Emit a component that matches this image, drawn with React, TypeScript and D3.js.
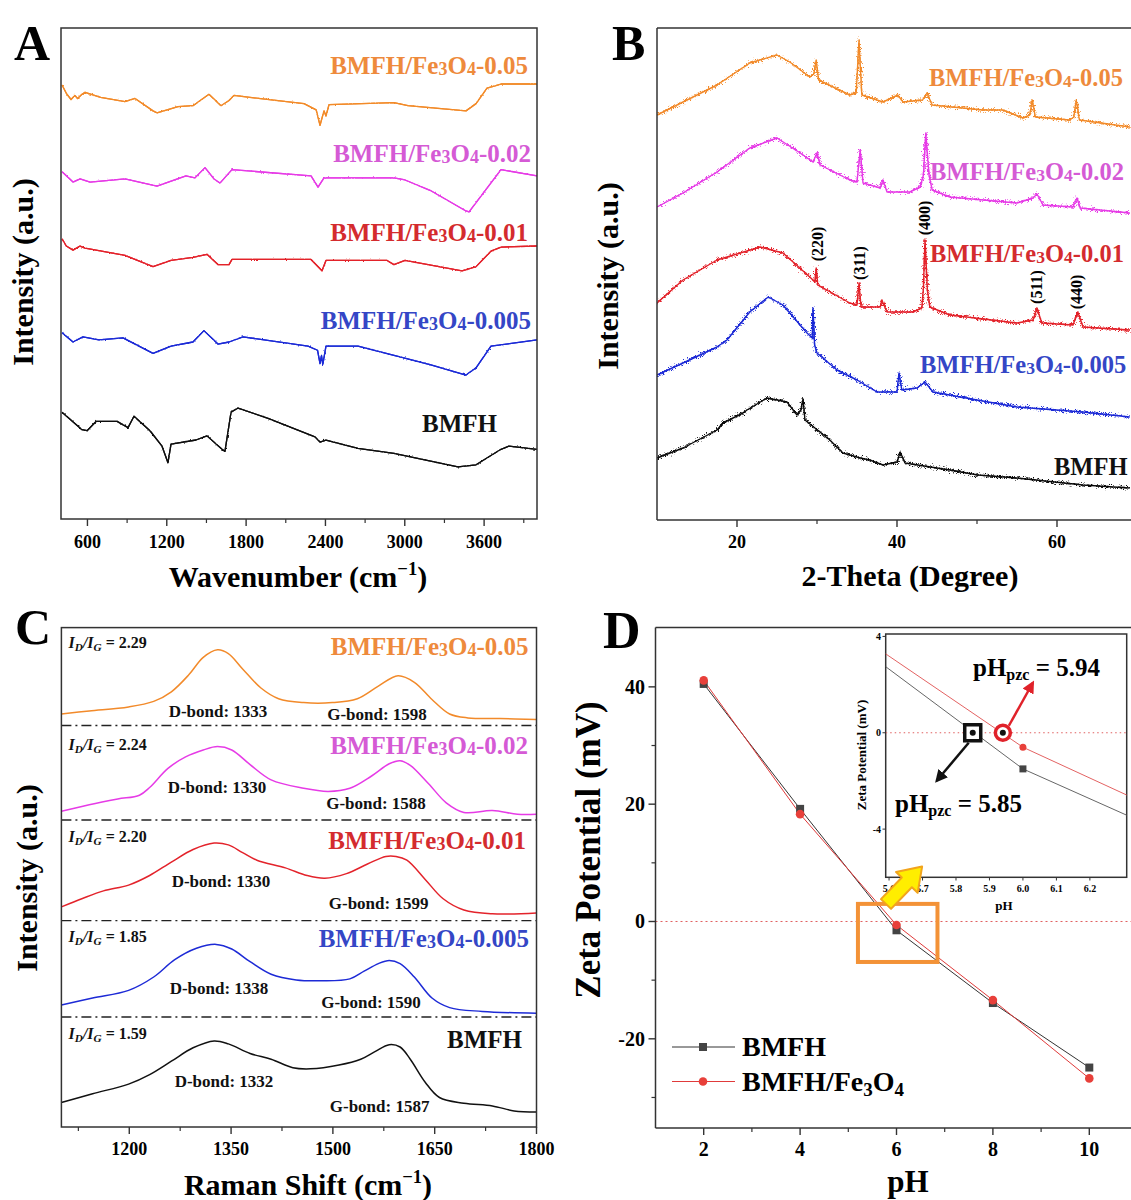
import React from "react";
import * as d3 from "d3";

type Pt = [number, number];

const SERIF = "'Liberation Serif', 'Times New Roman', Times, serif";
const AX = "#333";

// ---------------- A: FTIR (wavenumber, a.u.) ----------------
const ftirOrange: Pt[] = [[408,422],[440,414],[476,408],[505,412],[525,409],[559,413],[582,415],[700,410],[884,406],[960,409],[1096,397],[1126,395],[1285,401],[1398,402],[1519,413],[1602,403],[1610,402],[1671,407],[1708,412],[1829,410],[2238,404],[2330,398],[2359,383],[2389,397],[2404,392],[2427,403],[2918,405],[3024,402],[3463,397],[3539,404],[3622,419],[3728,423],[4000,423]];
const ftirMagenta: Pt[] = [[408,338],[491,328],[544,331],[620,328],[884,331],[1126,324],[1345,334],[1413,332],[1489,342],[1557,331],[1602,327],[1693,340],[2291,334],[2344,323],[2389,332],[2918,332],[3002,330],[3191,320],[3463,300],[3486,299],[3728,340],[4000,334]];
const ftirRed: Pt[] = [[408,273],[440,266],[491,262],[544,266],[582,264],[884,257],[1096,246],[1232,252],[1398,255],[1504,258],[1587,248],[1671,248],[1693,253],[2291,253],[2374,242],[2404,252],[2866,252],[2918,248],[3002,252],[3433,242],[3539,246],[3652,261],[3728,265],[4000,266]];
const ftirBlue: Pt[] = [[408,182],[491,173],[566,178],[687,175],[869,177],[1096,162],[1232,169],[1398,173],[1481,184],[1587,171],[1671,173],[1776,178],[2268,169],[2340,165],[2359,152],[2370,160],[2380,151],[2404,169],[2646,169],[3191,151],[3463,141],[3539,148],[3652,169],[4000,175]];
const ftirBlack: Pt[] = [[408,105],[559,88],[597,87],[665,96],[824,96],[907,90],[952,101],[1073,87],[1164,72],[1209,56],[1232,74],[1421,78],[1504,82],[1618,69],[1640,67],[1686,105],[1739,109],[1966,99],[2321,81],[2359,76],[2404,78],[2646,70],[2918,65],[3402,52],[3539,54],[3728,69],[3788,72],[4000,69]];
const ftirMajorTicks = [600, 1200, 1800, 2400, 3000, 3600];
const ftirMinorTicks = [900, 1500, 2100, 2700, 3300, 3900];

// ---------------- B: XRD (2-theta, a.u.) ----------------
const xrdOrange: Pt[] = [[10,405],[13.25,418],[17.5,435],[21.6,457],[25,465],[26.6,458],[29.1,443],[29.6,446],[29.9,460],[30.2,440],[34.1,425],[34.9,427],[35.25,480],[35.6,425],[38.25,418],[40.1,425],[40.75,418],[43.2,420],[43.75,427],[44.4,415],[50.75,410],[53.25,410],[55.75,402],[56.6,405],[56.9,420],[57.3,403],[61.6,400],[62.1,403],[62.4,420],[62.8,400],[69.1,393]];
const xrdMagenta: Pt[] = [[10,313],[13.25,327],[17.5,348],[21.6,372],[25,382],[27.9,367],[29.5,358],[30,367],[30.4,355],[34.1,340],[35,338],[35.4,370],[35.75,337],[37.9,332],[38.25,340],[38.75,328],[41.6,328],[42.9,333],[43.3,345],[43.6,387],[44,345],[44.4,330],[46.6,323],[55,317],[57,322],[57.5,326],[58.25,315],[62,313],[62.5,322],[62.9,312],[69.1,307]];
const xrdRed: Pt[] = [[10,217],[13.25,240],[17.5,260],[22.9,273],[25.75,267],[29.1,243],[29.75,238],[29.9,252],[30.1,235],[34.1,217],[35,215],[35.25,237],[35.5,213],[37.9,213],[38.1,220],[38.75,208],[42,208],[43.1,212],[43.3,232],[43.5,280],[43.8,230],[44.1,213],[46.6,205],[55,197],[57,200],[57.5,212],[58.1,197],[62,195],[62.6,208],[63.25,193],[69.1,190]];
const xrdBlue: Pt[] = [[10,145],[13.25,157],[17.5,173],[18.75,180],[21.6,208],[23.9,223],[25.75,215],[28.75,187],[29.4,182],[29.5,212],[29.7,175],[30,167],[32.5,150],[35,140],[37.5,128],[40,128],[40.25,147],[40.6,130],[42.5,132],[43.5,138],[44.5,128],[50,120],[55,113],[63.25,108],[69.1,103]];
const xrdBlack: Pt[] = [[10,62],[13.25,72],[17.5,90],[18.25,97],[20.75,107],[21.25,110],[23.75,122],[26.25,118],[27.5,105],[28,110],[28.25,121],[28.5,100],[31.6,80],[33.25,67],[35.4,62],[36.6,60],[38.25,55],[40,58],[40.4,68],[41,57],[46.6,50],[50.1,45],[55,42],[63.25,35],[69.1,32]];
const hklLabels = ["(220)", "(311)", "(400)", "(511)", "(440)"];
const hklAngles = [30.1, 35.4, 43.5, 57.5, 62.5];
const hklLevels = [276, 257, 302, 233, 228];
const xrdMajorTicks = [20, 40, 60];
const xrdMinorTicks = [30, 50];

// ---------------- C: Raman (shift, a.u.) ----------------
const ramanOrange: Pt[] = [[1100,413],[1141,416],[1199,420],[1236,425.6],[1262,435.2],[1288,452.4],[1309,469.6],[1330,477.2],[1346,473.4],[1367,458.1],[1394,439],[1420,428.3],[1457,424.4],[1499,424.4],[1536,428.3],[1567,440.9],[1596,451.2],[1620,444.7],[1646,427.5],[1672,413],[1699,409.1],[1746,408.4],[1800,407.6]];
const ramanMagenta: Pt[] = [[1100,315.7],[1141,322.3],[1183,328],[1215,331.8],[1230,339.5],[1257,358.6],[1283,370.1],[1309,377],[1330,380.4],[1351,377],[1378,362.4],[1409,347.1],[1457,338.7],[1493,335.6],[1525,338.7],[1557,351],[1583,363.2],[1599,366.3],[1614,361.7],[1641,343.3],[1667,324.2],[1693,314.6],[1735,316.5],[1772,312.7],[1800,312.7]];
const ramanRed: Pt[] = [[1100,220.1],[1131,228.5],[1162,236.1],[1199,241.9],[1230,251.5],[1262,264.9],[1294,277.5],[1325,284],[1346,282.1],[1367,274.4],[1388,266.8],[1430,259.1],[1462,251.5],[1488,248.8],[1520,253.4],[1551,263],[1578,270.6],[1593,270.6],[1609,266.8],[1636,247.6],[1662,228.5],[1693,217],[1735,213.2],[1800,214]];
const ramanBlue: Pt[] = [[1100,122.1],[1146,129],[1199,136.6],[1236,150],[1267,167.3],[1299,178.7],[1328,182.6],[1351,178],[1378,165.3],[1409,152.7],[1446,147],[1483,146.2],[1525,148.1],[1546,155.8],[1567,163.4],[1583,166.5],[1599,163.4],[1620,150],[1646,129],[1672,119.4],[1720,115.6],[1800,113.7]];
const ramanBlack: Pt[] = [[1100,24.5],[1146,33.3],[1199,42.9],[1230,52.4],[1262,65.8],[1294,79.2],[1325,86.1],[1346,83.1],[1378,73.5],[1409,67.8],[1441,59.3],[1467,58.2],[1509,62],[1541,67.8],[1562,75.4],[1583,82.3],[1599,80],[1614,67.8],[1636,44.8],[1657,29.5],[1693,23.8],[1735,21.1],[1767,16.1],[1800,15]];
const ramanRatios = ["2.29", "2.24", "2.20", "1.85", "1.59"];
const ramanDBand = [1333, 1330, 1330, 1338, 1332];
const ramanGBand = [1598, 1588, 1599, 1590, 1587];
const ramanSeparators = [401.5, 307, 206.3, 110];
const ramanMajorTicks = [1200, 1350, 1500, 1650, 1800];
const ramanMinorTicks = [1125, 1275, 1425, 1575, 1725];

// ---------------- D: zeta potential ----------------
const zetaPH = [2, 4, 6, 8, 10];
const zetaBMFH = [40.5, 19.2, -1.5, -13.9, -24.9];
const zetaFe3O4 = [41.1, 18.3, -0.6, -13.4, -26.75];
const pzcBMFH = 5.85;
const pzcFe3O4 = 5.94;
const zetaXTicks = [2, 4, 6, 8, 10];
const zetaXMinor = [3, 5, 7, 9];
const zetaYTicks = [40, 20, 0, -20];
const zetaYMinor = [30, 10, -10, -30];
const insetXTicks = [5.6, 5.7, 5.8, 5.9, 6.0, 6.1, 6.2];
const insetYTicks = [4, 0, -4];

// sample names, top to bottom
const sampleSuffix = ["0.05", "0.02", "0.01", "0.005", ""];
const traceColors = ["#f28a2a", "#e63be6", "#e3232b", "#1d2ad6", "#111"];
const labelColors = ["#ee8a3c", "#d55ad5", "#d42b2e", "#3446c6", "#111"];

function SampleText(props: any) {
  const { suffix, ...rest } = props;
  if (!suffix) return <text {...rest}>BMFH</text>;
  return (
    <text {...rest}>
      BMFH/Fe<tspan fontSize="0.72em" dy="1">3</tspan>
      <tspan dy="-1">O</tspan>
      <tspan fontSize="0.72em" dy="1">4</tspan>
      <tspan dy="-1">-{suffix}</tspan>
    </text>
  );
}

function BottomTicks({ scale, major, minor, y, labelY, size = 18, fmt }: any) {
  const f = fmt || ((v: number) => String(v));
  return (
    <g>
      {major.map((v: number) => (
        <line key={"M" + v} x1={scale(v)} x2={scale(v)} y1={y} y2={y + 7} stroke={AX} strokeWidth={1.4} />
      ))}
      {minor.map((v: number) => (
        <line key={"m" + v} x1={scale(v)} x2={scale(v)} y1={y} y2={y + 4} stroke={AX} strokeWidth={1.2} />
      ))}
      {major.map((v: number) => (
        <text key={"t" + v} x={scale(v)} y={labelY} textAnchor="middle" fontSize={size} fontWeight="bold">
          {f(v)}
        </text>
      ))}
    </g>
  );
}

function Letter({ x, y, ch }: any) {
  return (
    <text x={x} y={y} fontSize={50} fontWeight="bold">
      {ch}
    </text>
  );
}

function CmTitle({ x, y, label }: any) {
  return (
    <text x={x} y={y} textAnchor="middle" fontSize={30} fontWeight="bold">
      {label} (cm<tspan fontSize="0.62em" dy="-12">−1</tspan>
      <tspan dy="12">)</tspan>
    </text>
  );
}

function PanelA() {
  const x = d3.scaleLinear().domain([400, 4000]).range([61, 537]);
  const y = d3.scaleLinear().domain([0, 477]).range([520.5, 28.3]);
  const line = d3.line<Pt>().x((d) => x(d[0])).y((d) => y(d[1]));
  const series = [ftirOrange, ftirMagenta, ftirRed, ftirBlue, ftirBlack];
  const labelPos = [[528, 74], [531, 162], [528, 241], [531, 329], [497, 432]];
  return (
    <g>
      <defs>
        <filter id="ftirNoise" x="-2%" y="-20%" width="104%" height="140%">
          <feTurbulence type="fractalNoise" baseFrequency="0.6 0.4" numOctaves={1} seed={9} result="t" />
          <feDisplacementMap in="SourceGraphic" in2="t" scale={2.5} xChannelSelector="R" yChannelSelector="G" result="d" />
          <feMerge>
            <feMergeNode in="SourceGraphic" />
            <feMergeNode in="d" />
          </feMerge>
        </filter>
      </defs>
      <Letter x={14} y={60} ch="A" />
      {series.map((s, i) => (
        <path key={i} d={line(s) || ""} fill="none" stroke={traceColors[i]} strokeWidth={1.3} strokeLinejoin="round" filter="url(#ftirNoise)" />
      ))}
      {series.map((s, i) => (
        <SampleText key={"l" + i} suffix={sampleSuffix[i]} x={labelPos[i][0]} y={labelPos[i][1]} textAnchor="end" fontSize={25} fontWeight="bold" fill={labelColors[i]} />
      ))}
      <rect x={61} y={28} width={476} height={491} fill="none" stroke={AX} strokeWidth={1.5} />
      <BottomTicks scale={x} major={ftirMajorTicks} minor={ftirMinorTicks} y={519} labelY={548} />
      <CmTitle x={298} y={587} label="Wavenumber" />
      <text transform="translate(33,272) rotate(-90)" textAnchor="middle" fontSize={30} fontWeight="bold">
        Intensity (a.u.)
      </text>
    </g>
  );
}

function PanelB() {
  const x = d3.scaleLinear().domain([10, 70]).range([657, 1137]);
  const y = d3.scaleLinear().domain([0, 492]).range([520, 28]);
  const line = d3.line<Pt>().x((d) => x(d[0])).y((d) => y(d[1]));
  const series = [xrdOrange, xrdMagenta, xrdRed, xrdBlue, xrdBlack];
  const labelPos = [[929, 86], [930, 180], [930, 262], [920, 373], [1054, 475]];
  return (
    <g>
      <defs>
        <filter id="xrdNoise" x="-3%" y="-15%" width="106%" height="130%">
          <feTurbulence type="fractalNoise" baseFrequency="1.4 0.9" numOctaves={2} seed={4} result="t" />
          <feDisplacementMap in="SourceGraphic" in2="t" scale={9} xChannelSelector="R" yChannelSelector="G" result="d" />
          <feMerge>
            <feMergeNode in="SourceGraphic" />
            <feMergeNode in="d" />
          </feMerge>
        </filter>
        <clipPath id="clipB">
          <rect x={657} y={28} width={480} height={492} />
        </clipPath>
      </defs>
      <Letter x={612} y={60} ch="B" />
      <g clipPath="url(#clipB)">
        {series.map((s, i) => (
          <path key={i} d={line(s) || ""} fill="none" stroke={traceColors[i]} strokeWidth={1.4} strokeLinejoin="round" filter="url(#xrdNoise)" />
        ))}
      </g>
      {series.map((s, i) => (
        <SampleText key={"l" + i} suffix={sampleSuffix[i]} x={labelPos[i][0]} y={labelPos[i][1]} fontSize={24.5} fontWeight="bold" fill={labelColors[i]} />
      ))}
      {hklLabels.map((h, i) => (
        <text key={h} transform={`translate(${x(hklAngles[i]) + 5},${y(hklLevels[i])}) rotate(-90)`} textAnchor="middle" fontSize={16} fontWeight="bold">
          {h}
        </text>
      ))}
      <line x1={657} x2={1131} y1={28} y2={28} stroke={AX} strokeWidth={1.5} />
      <line x1={657} x2={1131} y1={520} y2={520} stroke={AX} strokeWidth={1.5} />
      <line x1={657} x2={657} y1={28} y2={520} stroke={AX} strokeWidth={1.5} />
      <BottomTicks scale={x} major={xrdMajorTicks} minor={xrdMinorTicks} y={520} labelY={548} />
      <text x={910} y={586} textAnchor="middle" fontSize={30} fontWeight="bold">
        2-Theta (Degree)
      </text>
      <text transform="translate(618,276) rotate(-90)" textAnchor="middle" fontSize={30} fontWeight="bold">
        Intensity (a.u.)
      </text>
    </g>
  );
}

function PanelC() {
  const x = d3.scaleLinear().domain([1100, 1800]).range([61.4, 536.5]);
  const y = d3.scaleLinear().domain([0, 499.4]).range([1127, 627.6]);
  const line = d3.line<Pt>().x((d) => x(d[0])).y((d) => y(d[1])).curve(d3.curveCatmullRom.alpha(0.5));
  const series = [ramanOrange, ramanMagenta, ramanRed, ramanBlue, ramanBlack];
  const labelPos = [[528.6, 655], [528, 754], [526, 849], [529, 947], [522, 1048]];
  const ratioY = [648, 750, 842, 942, 1039];
  const dPos = [[218, 717], [217, 793], [221, 887], [219, 994], [224, 1087]];
  const gPos = [[377, 720], [376, 809], [378.6, 909], [371, 1008], [379.6, 1112]];
  return (
    <g>
      <Letter x={15} y={644} ch="C" />
      {ramanSeparators.map((s) => (
        <line key={s} x1={61.4} x2={536.5} y1={y(s)} y2={y(s)} stroke="#222" strokeWidth={1.3} strokeDasharray="10,4,2,4" />
      ))}
      {series.map((s, i) => (
        <path key={i} d={line(s) || ""} fill="none" stroke={traceColors[i]} strokeWidth={1.5} />
      ))}
      {series.map((s, i) => (
        <g key={"l" + i}>
          <SampleText suffix={sampleSuffix[i]} x={labelPos[i][0]} y={labelPos[i][1]} textAnchor="end" fontSize={25} fontWeight="bold" fill={labelColors[i]} />
          <text x={68.6} y={ratioY[i]} fontSize={16} fontWeight="bold" fill="#111">
            <tspan fontStyle="italic">I</tspan>
            <tspan fontStyle="italic" fontSize="0.7em" dy="3">D</tspan>
            <tspan fontStyle="italic" dy="-3">/I</tspan>
            <tspan fontStyle="italic" fontSize="0.7em" dy="3">G</tspan>
            <tspan dy="-3"> = {ramanRatios[i]}</tspan>
          </text>
          <text x={dPos[i][0]} y={dPos[i][1]} textAnchor="middle" fontSize={17} fontWeight="bold" fill="#111">
            D-bond: {ramanDBand[i]}
          </text>
          <text x={gPos[i][0]} y={gPos[i][1]} textAnchor="middle" fontSize={17} fontWeight="bold" fill="#111">
            G-bond: {ramanGBand[i]}
          </text>
        </g>
      ))}
      <rect x={61.4} y={627.6} width={475.1} height={499.4} fill="none" stroke={AX} strokeWidth={1.5} />
      <BottomTicks scale={x} major={ramanMajorTicks} minor={ramanMinorTicks} y={1127} labelY={1155} />
      <CmTitle x={308} y={1195} label="Raman Shift" />
      <text transform="translate(37,878) rotate(-90)" textAnchor="middle" fontSize={30} fontWeight="bold">
        Intensity (a.u.)
      </text>
    </g>
  );
}

function PanelD() {
  const x = d3.scaleLinear().domain([1, 11]).range([655.5, 1137.5]);
  const y = d3.scaleLinear().domain([-35, 50]).range([1126.8, 628.2]);
  const bm: Pt[] = zetaPH.map((p, i) => [p, zetaBMFH[i]]);
  const fe: Pt[] = zetaPH.map((p, i) => [p, zetaFe3O4[i]]);
  const line = d3.line<Pt>().x((d) => x(d[0])).y((d) => y(d[1]));

  const xi = d3.scaleLinear().domain([5.59, 6.31]).range([885.7, 1126.7]);
  const yi = d3.scaleLinear().domain([-6, 4.1]).range([877.3, 634]);
  const linei = d3.line<Pt>().x((d) => xi(d[0])).y((d) => yi(d[1]));
  const sqSize = 8;
  const redC = "#e8403a";
  const grayC = "#444";

  const bx = xi(pzcBMFH), by = yi(0);
  const rx = xi(pzcFe3O4), ry = yi(0);

  return (
    <g>
      <defs>
        <clipPath id="clipInset">
          <rect x={885.7} y={634} width={241} height={243.3} />
        </clipPath>
        <marker id="arrBlack" viewBox="0 0 10 10" refX="8" refY="5" markerWidth="5" markerHeight="5" orient="auto">
          <path d="M0,0 L10,5 L0,10 z" fill="#111" />
        </marker>
        <marker id="arrRed" viewBox="0 0 10 10" refX="8" refY="5" markerWidth="5" markerHeight="5" orient="auto">
          <path d="M0,0 L10,5 L0,10 z" fill="#e0222a" />
        </marker>
      </defs>
      <text x={603} y={648} fontSize={52} fontWeight="bold">
        D
      </text>
      {/* zero line */}
      <line x1={655.5} x2={1131} y1={y(0)} y2={y(0)} stroke="#e06060" strokeWidth={1} strokeDasharray="2,3" />
      <path d={line(bm) || ""} fill="none" stroke="#333" strokeWidth={1} />
      <path d={line(fe) || ""} fill="none" stroke="#e03a3a" strokeWidth={1} />
      {bm.map((d, i) => (
        <rect key={"s" + i} x={x(d[0]) - sqSize / 2} y={y(d[1]) - sqSize / 2} width={sqSize} height={sqSize} fill={grayC} />
      ))}
      {fe.map((d, i) => (
        <circle key={"c" + i} cx={x(d[0])} cy={y(d[1])} r={4.3} fill={redC} />
      ))}

      {/* frame */}
      <line x1={655.5} x2={1131} y1={627.6} y2={627.6} stroke={AX} strokeWidth={1.5} />
      <line x1={655.5} x2={1131} y1={1128} y2={1128} stroke={AX} strokeWidth={1.5} />
      <line x1={655.5} x2={655.5} y1={627.6} y2={1128} stroke={AX} strokeWidth={1.5} />
      <BottomTicks scale={x} major={zetaXTicks} minor={zetaXMinor} y={1128} labelY={1156} size={20} />
      {zetaYTicks.map((v) => (
        <g key={"y" + v}>
          <line x1={648.5} x2={655.5} y1={y(v)} y2={y(v)} stroke={AX} strokeWidth={1.4} />
          <text x={645} y={y(v) + 7} textAnchor="end" fontSize={20} fontWeight="bold">
            {v}
          </text>
        </g>
      ))}
      {zetaYMinor.map((v) => (
        <line key={"ym" + v} x1={651.5} x2={655.5} y1={y(v)} y2={y(v)} stroke={AX} strokeWidth={1.2} />
      ))}
      <text x={908} y={1192} textAnchor="middle" fontSize={31} fontWeight="bold">
        pH
      </text>
      <text transform="translate(600,850) rotate(-90)" textAnchor="middle" fontSize={35} fontWeight="bold">
        Zeta Potential (mV)
      </text>

      {/* legend */}
      <line x1={672} x2={735} y1={1047} y2={1047} stroke="#333" strokeWidth={1} />
      <rect x={703 - sqSize / 2} y={1047 - sqSize / 2} width={sqSize} height={sqSize} fill={grayC} />
      <text x={742} y={1056} fontSize={28} fontWeight="bold">
        BMFH
      </text>
      <line x1={672} x2={735} y1={1081.5} y2={1081.5} stroke="#e03a3a" strokeWidth={1} />
      <circle cx={703} cy={1081.5} r={4.3} fill={redC} />
      <text x={742} y={1090.5} fontSize={28} fontWeight="bold">
        BMFH/Fe<tspan fontSize={19} dy="5">3</tspan>
        <tspan dy="-5">O</tspan>
        <tspan fontSize={19} dy="5">4</tspan>
      </text>

      {/* zoom box */}
      <rect x={x(5.2)} y={y(3.0)} width={x(6.85) - x(5.2)} height={y(-6.9) - y(3.0)} fill="none" stroke="#f39237" strokeWidth={4} />

      {/* inset */}
      <rect x={885.7} y={634} width={241} height={243.3} fill="#fff" stroke={AX} strokeWidth={1.5} />
      <g clipPath="url(#clipInset)">
        <line x1={885.7} x2={1126.7} y1={yi(0)} y2={yi(0)} stroke="#e06060" strokeWidth={1} strokeDasharray="1.5,3" />
        <path d={linei(bm) || ""} fill="none" stroke="#555" strokeWidth={0.9} />
        <path d={linei(fe) || ""} fill="none" stroke="#e05050" strokeWidth={0.9} />
        {bm.map((d, i) => (
          <rect key={"is" + i} x={xi(d[0]) - 3.5} y={yi(d[1]) - 3.5} width={7} height={7} fill={grayC} />
        ))}
        {fe.map((d, i) => (
          <circle key={"ic" + i} cx={xi(d[0])} cy={yi(d[1])} r={3.5} fill={redC} />
        ))}
      </g>
      {insetXTicks.map((v) => (
        <g key={"ix" + v}>
          <line x1={xi(v)} x2={xi(v)} y1={877.3} y2={880.5} stroke={AX} strokeWidth={1} />
          <text x={xi(v)} y={892} textAnchor="middle" fontSize={10} fontWeight="bold">
            {v.toFixed(1)}
          </text>
        </g>
      ))}
      {insetYTicks.map((v) => (
        <g key={"iy" + v}>
          <line x1={882.5} x2={885.7} y1={yi(v)} y2={yi(v)} stroke={AX} strokeWidth={1} />
          <text x={881} y={yi(v) + 3.5} textAnchor="end" fontSize={10} fontWeight="bold">
            {v}
          </text>
        </g>
      ))}
      <text x={1004} y={910} textAnchor="middle" fontSize={13} fontWeight="bold">
        pH
      </text>
      <text transform="translate(866,755) rotate(-90)" textAnchor="middle" fontSize={13} fontWeight="bold">
        Zeta Potential (mV)
      </text>

      {/* pzc markers */}
      <rect x={bx - 8} y={by - 8} width={16} height={16} fill="#fff" stroke="#111" strokeWidth={3.5} />
      <circle cx={bx} cy={by} r={3} fill="#111" />
      <circle cx={rx} cy={ry} r={7.5} fill="#fff" stroke="#e0222a" strokeWidth={3.5} />
      <circle cx={rx} cy={ry} r={3} fill="#111" />
      <line x1={bx - 4} x2={bx - 36} y1={by + 10} y2={by + 48} stroke="#111" strokeWidth={2.5} markerEnd="url(#arrBlack)" />
      <line x1={rx + 6} x2={rx + 30} y1={ry - 7} y2={ry - 50} stroke="#e0222a" strokeWidth={2.5} markerEnd="url(#arrRed)" />
      <text x={973} y={676} fontSize={25} fontWeight="bold">
        pH<tspan fontSize={16} dy="4">pzc</tspan>
        <tspan dy="-4"> = {pzcFe3O4.toFixed(2)}</tspan>
      </text>
      <text x={895} y={812} fontSize={25} fontWeight="bold">
        pH<tspan fontSize={16} dy="4">pzc</tspan>
        <tspan dy="-4"> = {pzcBMFH.toFixed(2)}</tspan>
      </text>

      {/* yellow arrow */}
      <g transform="translate(886,904) rotate(-46)">
        <path d="M0,-7 L30,-7 L30,-15 L52,0 L30,15 L30,7 L0,7 Z" fill="#ffee00" stroke="#f2a41c" strokeWidth={2} strokeLinejoin="round" />
      </g>
    </g>
  );
}

export default function App() {
  return (
    <div style={{ position: "absolute", left: 0, top: 0, width: 1131, height: 1200, background: "#fff" }}>
      <svg width={1131} height={1200} viewBox="0 0 1131 1200" fontFamily={SERIF} style={{ display: "block" }}>
        <rect x={0} y={0} width={1131} height={1200} fill="#fff" />
        <PanelA />
        <PanelB />
        <PanelC />
        <PanelD />
      </svg>
    </div>
  );
}
